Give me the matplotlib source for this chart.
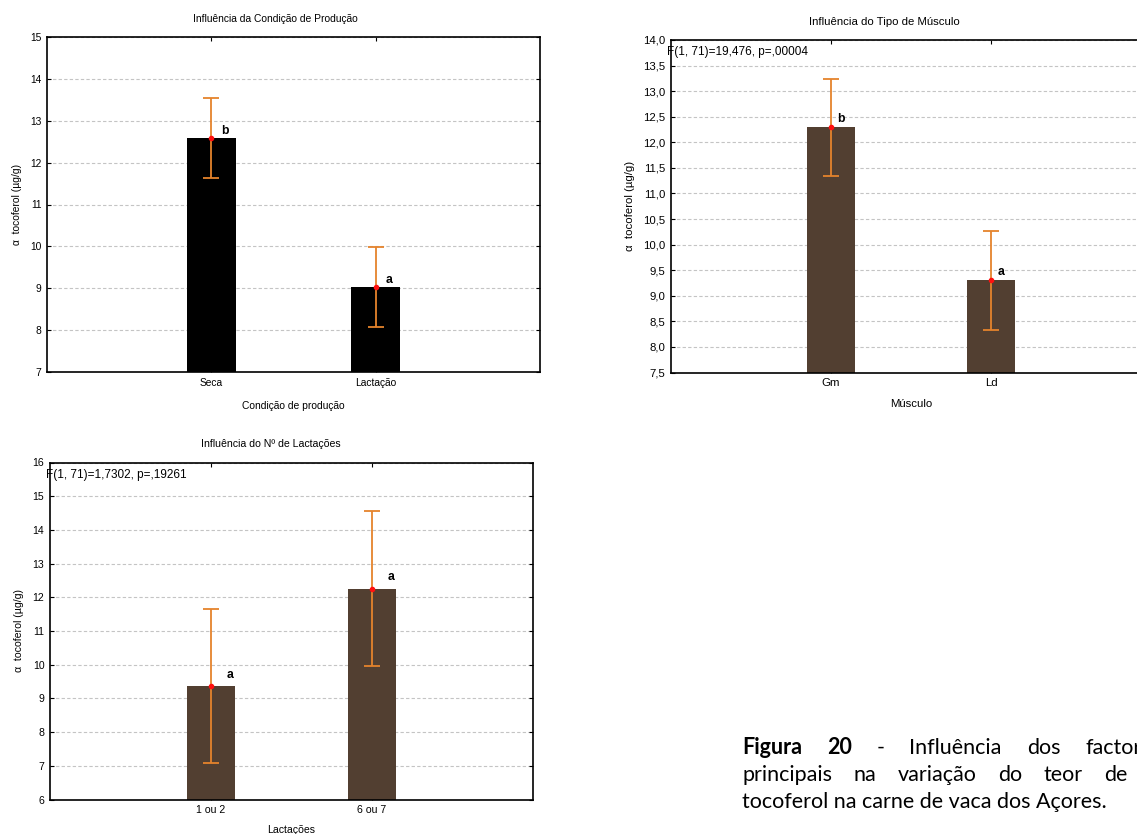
import numpy as np
import matplotlib.pyplot as plt

plt.rcParams['font.family'] = ['Liberation Sans', 'DejaVu Sans']

# Influência da Condição de Produção
cond_groups = ['Seca', 'Lactação']
cond_means = [12.59, 9.04]
cond_err = [0.95, 0.955]
cond_letters = ['b', 'a']

# Influência do Tipo de Músculo
musc_groups = ['Gm', 'Ld']
musc_means = [12.29, 9.30]
musc_err = [0.955, 0.96]
musc_letters = ['b', 'a']
musc_stat = 'F(1, 71)=19,476, p=,00004'

# Influência do Nº de Lactações
lact_groups = ['1 ou 2', '6 ou 7']
lact_means = [9.36, 12.26]
lact_err = [2.29, 2.29]
lact_letters = ['a', 'a']
lact_stat = 'F(1, 71)=1,7302, p=,19261'

caption_lines = [
    [('Figura', 'bold'), ('20', 'bold'), ('-', 'normal'), ('Influência', 'normal'),
     ('dos', 'normal'), ('factores', 'normal')],
    [(w, 'normal') for w in 'principais na variação do teor de α'.split()],
]
caption_last = 'tocoferol na carne de vaca dos Açores.'

ORANGE = '#e5832c'
BROWN = '#523f31'
W, H = 1137, 834


def px_axes(fig, left, top, right, bottom):
    return fig.add_axes([left / W, 1 - bottom / H, (right - left) / W, (bottom - top) / H])


def draw_panel(ax, groups, means, errs, letters, color, title, xlabel,
               ylim, yticks, ytick_labels, stat=None, fs=7.2, letter_off=(10, 6),
               title_shift=20, xlabelpad=10):
    x = np.arange(len(groups))
    ax.bar(x, means, width=0.3, color=color, zorder=2)
    ax.errorbar(x, means, yerr=errs, fmt='none', ecolor=ORANGE, elinewidth=1.3,
                capsize=5.5, capthick=1.3, zorder=3)
    ax.plot(x, means, 'o', color='#ff1010', markersize=3, zorder=4)
    for xi, m, lab in zip(x, means, letters):
        ax.annotate(lab, (xi, m), xytext=letter_off, textcoords='offset points',
                    ha='center', va='center', fontsize=8.8, fontweight='bold')
    if stat:
        ax.annotate(stat, (0, 1), xycoords='axes fraction', xytext=(-3, -9),
                    textcoords='offset points', ha='left', va='center', fontsize=8.5)
    ax.set_xlim(-1, 2)
    ax.set_ylim(*ylim)
    ax.set_xticks(x)
    ax.set_xticklabels(groups)
    ax.set_yticks(yticks)
    ax.set_yticklabels(ytick_labels)
    ax.tick_params(direction='in', top=True, right=True, length=3, width=0.8,
                   labelsize=fs, pad=4)
    ax.yaxis.grid(True, linestyle=(0, (3, 2)), color='#c4c4c4', linewidth=0.8, zorder=0)
    ax.set_axisbelow(True)
    for s in ax.spines.values():
        s.set_linewidth(1.2)
    width_px = ax.get_position().width * W
    ax.set_title(title, fontsize=fs, pad=11, x=0.5 - title_shift / width_px)
    ax.set_xlabel(xlabel, fontsize=fs, labelpad=xlabelpad)
    ax.set_ylabel('α  tocoferol (µg/g)', fontsize=fs, labelpad=6)


fig = plt.figure(figsize=(W / 100, H / 100), dpi=100)
fig.patch.set_facecolor('white')

ax1 = px_axes(fig, 47, 37, 540, 372)
t1 = np.arange(7, 16)
draw_panel(ax1, cond_groups, cond_means, cond_err, cond_letters, 'black',
           'Influência da Condição de Produção', 'Condição de produção',
           (7, 15), t1, [str(t) for t in t1], fs=7.4, letter_off=(10, 5), title_shift=18)

ax2 = px_axes(fig, 671, 40, 1151, 372.5)
t2 = np.arange(7.5, 14.01, 0.5)
draw_panel(ax2, musc_groups, musc_means, musc_err, musc_letters, BROWN,
           'Influência do Tipo de Músculo', 'Músculo',
           (7.5, 14), t2, [f'{t:.1f}'.replace('.', ',') for t in t2], stat=musc_stat,
           fs=8.2, letter_off=(7, 6), title_shift=27, xlabelpad=8)

ax3 = px_axes(fig, 50, 462.5, 533, 799.5)
t3 = np.arange(6, 17)
draw_panel(ax3, lact_groups, lact_means, lact_err, lact_letters, BROWN,
           'Influência do Nº de Lactações', 'Lactações',
           (6, 16), t3, [str(t) for t in t3], stat=lact_stat,
           fs=7.6, letter_off=(14, 8), title_shift=21, xlabelpad=7)

# caption: first two lines justified between x0 and the column edge
cap_font = dict(family=['Lato', 'DejaVu Sans'], fontsize=15.5, va='baseline')
x0, x_edge = 742, 1162
baselines = [754, 781, 808]
renderer = fig.canvas.get_renderer()
for words, yb in zip(caption_lines, baselines):
    texts = [fig.text(0, 1 - yb / H, w, fontweight=wt, **cap_font) for w, wt in words]
    widths = [t.get_window_extent(renderer).width for t in texts]
    gap = (x_edge - x0 - sum(widths)) / (len(texts) - 1)
    xp = x0
    for t, wd in zip(texts, widths):
        t.set_x(xp / W)
        xp += wd + gap
fig.text(x0 / W, 1 - baselines[2] / H, caption_last, **cap_font)

fig.savefig('out.png', dpi=100, facecolor='white')
